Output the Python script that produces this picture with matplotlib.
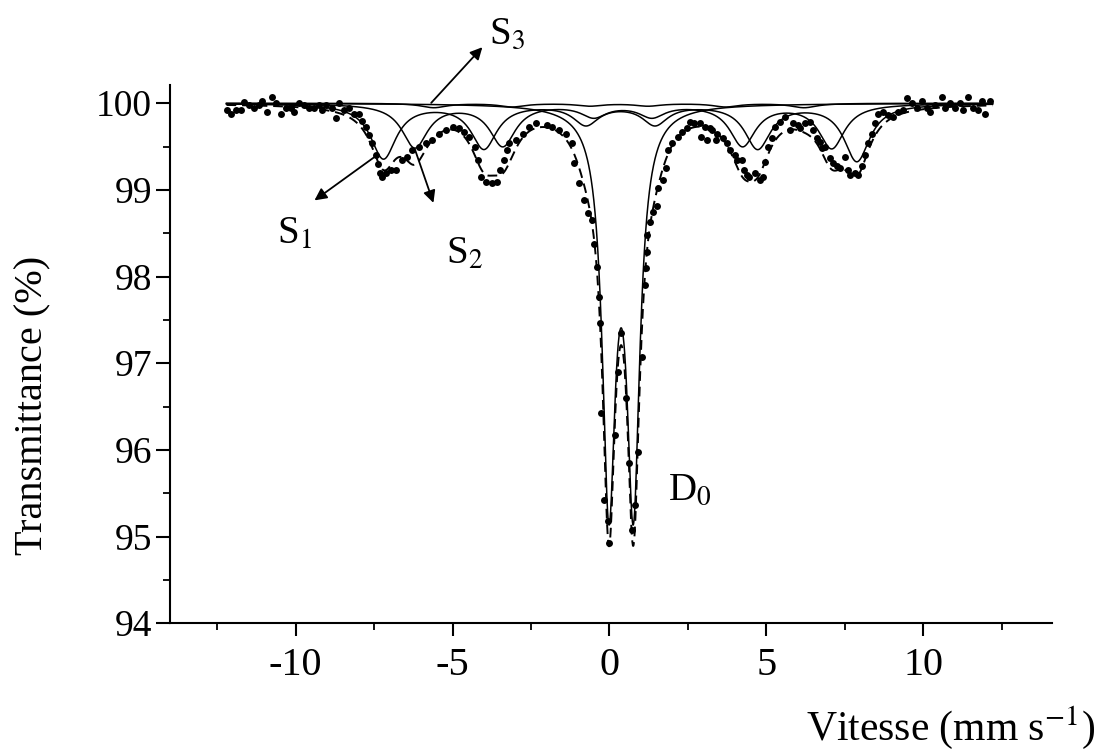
# Mossbauer spectrum: measured points, three sextets (S1, S2, S3) and a doublet (D0)
# Output: out.png

import numpy as np
import matplotlib.pyplot as plt
from matplotlib.ticker import MultipleLocator

vel = [-12.18, -12.05, -11.90, -11.74, -11.64, -11.48, -11.32, -11.16, -11.07, -10.90,
       -10.75, -10.62, -10.46, -10.30, -10.14, -10.04, -9.88, -9.73, -9.57, -9.41,
       -9.25, -9.15, -9.02, -8.83, -8.72, -8.61, -8.45, -8.29, -8.13, -7.97,
       -7.90, -7.75, -7.65, -7.56, -7.45, -7.38, -7.30, -7.24, -7.11, -6.95,
       -6.80, -6.60, -6.44, -6.28, -6.06, -5.84, -5.64, -5.42, -5.20, -5.00,
       -4.78, -4.62, -4.46, -4.30, -4.20, -4.08, -3.92, -3.73, -3.57, -3.50,
       -3.35, -3.28, -3.19, -2.97, -2.77, -2.55, -2.33, -2.00, -1.82, -1.60,
       -1.37, -1.21, -1.12, -0.96, -0.80, -0.70, -0.57, -0.48, -0.41, -0.35,
       -0.30, -0.26, -0.16, -0.06, -0.03, 0.16, 0.26, 0.38, 0.54, 0.61,
       0.73, 0.80, 0.90, 1.02, 1.12, 1.15, 1.18, 1.21, 1.28, 1.37,
       1.50, 1.53, 1.69, 1.79, 1.85, 2.00, 2.17, 2.30, 2.46, 2.55,
       2.70, 2.87, 2.93, 3.03, 3.12, 3.19, 3.28, 3.40, 3.44, 3.60,
       3.73, 3.83, 3.99, 4.05, 4.21, 4.30, 4.37, 4.46, 4.62, 4.78,
       4.88, 4.94, 5.04, 5.17, 5.26, 5.42, 5.58, 5.74, 5.84, 5.99,
       6.06, 6.22, 6.38, 6.47, 6.60, 6.70, 6.76, 6.86, 7.02, 7.11,
       7.24, 7.33, 7.49, 7.59, 7.65, 7.81, 7.91, 8.04, 8.13, 8.23,
       8.35, 8.45, 8.55, 8.71, 8.86, 9.02, 9.18, 9.34, 9.47, 9.63,
       9.79, 9.95, 10.11, 10.20, 10.36, 10.59, 10.68, 10.84, 11.00, 11.16,
       11.26, 11.42, 11.58, 11.73, 11.86, 11.96, 12.12]
trans = [99.92, 99.88, 99.92, 99.92, 100.01, 99.98, 99.95, 99.98, 100.03, 99.90,
         100.07, 100.00, 99.88, 99.95, 99.95, 99.90, 100.00, 99.98, 99.94, 99.95,
         99.98, 99.92, 99.98, 99.94, 99.83, 100.00, 99.92, 99.94, 99.88, 99.88,
         99.80, 99.72, 99.63, 99.54, 99.40, 99.30, 99.20, 99.15, 99.19, 99.23,
         99.23, 99.34, 99.38, 99.46, 99.49, 99.54, 99.57, 99.65, 99.69, 99.72,
         99.71, 99.67, 99.61, 99.49, 99.34, 99.15, 99.09, 99.08, 99.09, 99.23,
         99.34, 99.46, 99.54, 99.57, 99.65, 99.72, 99.77, 99.75, 99.72, 99.69,
         99.65, 99.54, 99.31, 99.08, 98.88, 98.73, 98.65, 98.38, 98.11, 97.76,
         97.46, 96.42, 95.42, 95.18, 94.92, 96.17, 96.90, 97.35, 96.60, 95.85,
         95.07, 95.36, 95.97, 97.07, 97.90, 98.10, 98.28, 98.48, 98.63, 98.74,
         98.81, 99.02, 99.11, 99.25, 99.46, 99.54, 99.61, 99.67, 99.71, 99.78,
         99.77, 99.77, 99.61, 99.72, 99.58, 99.71, 99.69, 99.58, 99.65, 99.60,
         99.54, 99.46, 99.40, 99.34, 99.34, 99.23, 99.17, 99.15, 99.20, 99.11,
         99.15, 99.32, 99.49, 99.60, 99.72, 99.78, 99.84, 99.69, 99.77, 99.75,
         99.71, 99.77, 99.78, 99.69, 99.60, 99.55, 99.48, 99.49, 99.37, 99.31,
         99.28, 99.25, 99.38, 99.23, 99.17, 99.20, 99.17, 99.28, 99.40, 99.54,
         99.65, 99.77, 99.88, 99.90, 99.86, 99.84, 99.90, 99.92, 100.06, 100.00,
         99.94, 100.03, 99.95, 99.90, 99.98, 100.07, 99.94, 100.00, 99.94, 100.00,
         99.92, 100.07, 99.95, 99.92, 100.03, 99.88, 100.03]

# fitted sub-spectra: line positions (mm/s) and depths (%)
s1_pos = [-7.20, -4.00, -0.75, 1.45, 4.72, 7.88]
s1_depth = [0.63, 0.51, 0.23, 0.23, 0.51, 0.66]
s2_pos = [-6.20, -3.40, -0.50, 1.35, 4.24, 7.08]
s2_depth = [0.50, 0.48, 0.14, 0.14, 0.48, 0.51]
s3_pos = [-5.60, -3.10, -0.63, 1.23, 3.70, 6.20]
s3_depth = [0.05, 0.04, 0.03, 0.03, 0.04, 0.05]
d0_pos = [-0.02, 0.76]
d0_depth = [4.45, 4.45]
sextet_hwhm = 0.5
doublet_hwhm = 0.25


def absorption(v, pos, depth, hwhm):
    # sum of Lorentzian lines
    out = np.zeros_like(v)
    for p, d in zip(pos, depth):
        out += d / (1 + ((v - p) / hwhm) ** 2)
    return out


def main():
    plt.rcParams["font.family"] = "Liberation Serif"
    plt.rcParams["mathtext.fontset"] = "stix"
    plt.rcParams["axes.unicode_minus"] = False

    v = np.linspace(-12.2, 12.2, 3000)
    a1 = absorption(v, s1_pos, s1_depth, sextet_hwhm)
    a2 = absorption(v, s2_pos, s2_depth, sextet_hwhm)
    a3 = absorption(v, s3_pos, s3_depth, sextet_hwhm)
    ad = absorption(v, d0_pos, d0_depth, doublet_hwhm)

    fig = plt.figure(figsize=(11.04, 7.49), dpi=100)
    ax = fig.add_axes([0.154, 0.168, 0.799, 0.7185])

    for a in (a3, a2, a1, ad):
        ax.plot(v, 100 - a, color="black", lw=1.1)
    ax.plot(v, 100 - (a1 + a2 + a3 + ad), color="black", lw=1.4, ls=(0, (5, 3)))
    ax.plot(vel, trans, "o", color="black", ms=5, mec="none")

    ax.set_xlim(-14.0, 14.1)
    ax.set_ylim(94.0, 100.21)
    ax.xaxis.set_major_locator(MultipleLocator(5))
    ax.xaxis.set_minor_locator(MultipleLocator(2.5))
    ax.yaxis.set_major_locator(MultipleLocator(1))
    ax.yaxis.set_minor_locator(MultipleLocator(0.5))
    for side in ("top", "right"):
        ax.spines[side].set_visible(False)
    for side in ("left", "bottom"):
        ax.spines[side].set_linewidth(1.5)
    ax.tick_params(axis="x", which="major", direction="out", length=9, width=1.5,
                   pad=8, labelsize=29)
    ax.tick_params(axis="y", which="major", direction="out", length=10, width=1.5,
                   pad=3, labelsize=27)
    ax.tick_params(which="minor", direction="out", length=5, width=1.3)

    fig.text(0.030, 0.459, "Transmittance (%)", rotation=90, fontsize=29,
             ha="center", va="center")
    fig.text(0.992, 0.012, r"Vitesse (mm s$^{-1}$)", fontsize=30,
             ha="right", va="baseline")

    # component labels and arrows
    arrow = dict(arrowstyle="-|>", color="black", lw=1.3, mutation_scale=18)
    ax.annotate("", xy=(-3.99, 100.67), xytext=(-5.74, 99.98), arrowprops=arrow,
                annotation_clip=False)
    ax.annotate("", xy=(-9.47, 98.86), xytext=(-7.33, 99.42), arrowprops=arrow)
    ax.annotate("", xy=(-5.58, 98.82), xytext=(-6.22, 99.49), arrowprops=arrow)
    ax.text(-3.83, 100.69, r"S$_3$", fontsize=28, clip_on=False)
    ax.text(-10.59, 98.38, r"S$_1$", fontsize=28)
    ax.text(-5.20, 98.15, r"S$_2$", fontsize=28)
    ax.text(1.85, 95.42, r"D$_0$", fontsize=28)

    fig.savefig("out.png", dpi=100)
    plt.close(fig)


if __name__ == "__main__":
    main()
